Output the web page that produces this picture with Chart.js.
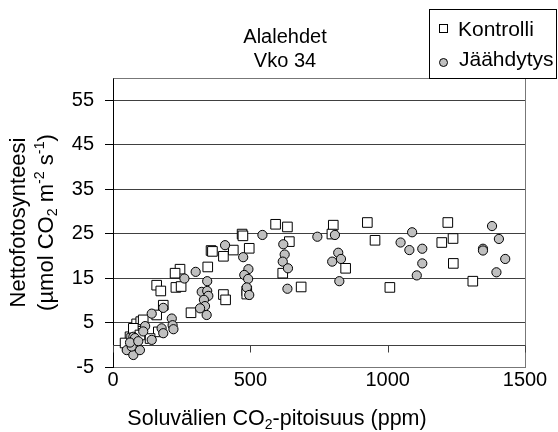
<!DOCTYPE html>
<html>
<head>
<meta charset="utf-8">
<script src="https://cdn.jsdelivr.net/npm/chart.js@4.4.0/dist/chart.umd.min.js"></script>
<style>
  html, body { margin: 0; padding: 0; background: #fff; }
  #wrap { width: 558px; height: 432px; }
</style>
</head>
<body>
<div id="wrap"><canvas id="chart" width="558" height="432"></canvas></div>
<script>
// Kontrolli (open squares)
const kontrolliX = [635, 642, 802, 797, 926, 954, 847, 685, 1008, 1219, 1197, 1238, 1239, 1310,
  592, 470, 473, 496, 438, 357, 362, 402, 345, 244, 226, 618, 159, 174, 229, 248,
  402, 410, 487, 487, 284, 183, 86, 101, 110, 62, 52, 74, 159, 165, 135, 44, 68, 98]
const kontrolliY = [26.5, 23.2, 26.9, 24.9, 27.5, 23.5, 17.2, 13.0, 12.9, 27.5, 23.0, 23.9, 18.3, 14.3,
  27.1, 24.9, 24.5, 21.7, 21.3, 21.2, 21.0, 19.9, 17.5, 17.0, 16.1, 16.1, 13.4, 12.1, 12.9, 13.1,
  11.3, 10.1, 12.1, 11.4, 7.2, 8.9, 4.7, 5.2, 5.6, 1.8, -0.4, 3.7, 6.7, 2.9, 1.4, 0.4, 1.4, 2.2]

// Jäähdytys (grey circles)
const jaahdytysX = [620, 625, 618, 637, 635, 744, 808, 820, 798, 830, 824, 1089, 1047, 1079, 1126, 1126,
  1106, 1380, 1405, 1347, 1347, 1428, 1396,
  544, 408, 474, 493, 478, 492, 487, 496, 301, 260, 343, 323, 343, 347, 331, 335, 317, 341,
  183, 141, 214, 217, 177, 183, 220, 117, 141, 74, 80, 50, 74, 98, 68, 110, 62, 92]
const jaahdytysY = [22.6, 20.3, 18.7, 17.2, 12.6, 24.3, 24.7, 20.7, 18.7, 19.3, 14.3, 25.3, 23.0, 21.3, 21.6, 18.3,
  15.6, 26.7, 23.8, 21.6, 21.2, 19.3, 16.3,
  24.7, 22.4, 19.7, 17.0, 15.7, 14.8, 12.9, 11.2, 16.4, 14.9, 14.3, 11.9, 12.1, 11.0, 10.1, 8.7, 8.2, 6.7,
  8.3, 7.0, 5.9, 4.4, 3.7, 2.6, 3.5, 4.2, 1.1, 1.8, 1.5, -1.2, -2.3, -1.2, -0.4, 3.0, 0.5, 0.8]

const xTicks = [0, 500, 1000, 1500]
const yTicks = [-5, 5, 15, 25, 35, 45, 55]

const titleLines = ['Alalehdet', 'Vko 34']
const seriesNames = ['Kontrolli', 'Jäähdytys']

const FONT = "'Liberation Sans', Arial, sans-serif"
const gridColor = '#404040'
const frameColor = '#777'

const toPoints = (xs, ys) => xs.map((x, i) => ({ x: x, y: ys[i] }))

// draw a line of text with sub/superscript parts, centred on x
function drawRich(ctx, parts, x, y, size) {
  let w = 0
  parts.forEach(p => {
    ctx.font = `${p.k ? size * 0.65 : size}px ${FONT}`
    w += ctx.measureText(p.t).width
  })
  let cx = x - w / 2
  ctx.textAlign = 'left'
  ctx.textBaseline = 'alphabetic'
  parts.forEach(p => {
    const s = p.k ? size * 0.65 : size
    ctx.font = `${s}px ${FONT}`
    const dy = p.k === 'sub' ? size * 0.2 : p.k === 'sup' ? -size * 0.4 : 0
    ctx.fillText(p.t, cx, y + dy)
    cx += ctx.measureText(p.t).width
  })
}

const framePlugin = {
  id: 'frame',
  beforeDatasetsDraw(chart) {
    const { ctx, chartArea: a, scales: { x, y } } = chart
    const al = v => Math.round(v) + 0.5
    ctx.save()
    ctx.lineWidth = 1
    ctx.strokeStyle = frameColor
    ctx.beginPath()
    ctx.moveTo(al(a.left), al(a.top))
    ctx.lineTo(al(a.right), al(a.top))
    ctx.lineTo(al(a.right), al(a.bottom))
    ctx.stroke()
    // horizontal axis crossing at 0
    const y0 = al(y.getPixelForValue(0))
    ctx.strokeStyle = gridColor
    ctx.beginPath()
    ctx.moveTo(a.left, y0)
    ctx.lineTo(a.right, y0)
    xTicks.forEach(v => {
      const px = al(x.getPixelForValue(v))
      ctx.moveTo(px, y0)
      ctx.lineTo(px, y0 + 7)
    })
    ctx.stroke()
    ctx.restore()
  },
  afterDraw(chart) {
    const { ctx, chartArea: a } = chart
    ctx.save()
    ctx.fillStyle = '#000'
    ctx.textAlign = 'center'
    ctx.textBaseline = 'alphabetic'
    ctx.font = `20px ${FONT}`
    ctx.fillText(titleLines[0], 285, 43)
    ctx.fillText(titleLines[1], 285, 67)

    // legend
    ctx.strokeStyle = '#000'
    ctx.lineWidth = 1
    ctx.fillStyle = '#fff'
    ctx.fillRect(429.5, 9.5, 127, 69)
    ctx.strokeRect(429.5, 9.5, 127, 69)
    ctx.fillRect(439.5, 24.5, 8, 8)
    ctx.strokeRect(439.5, 24.5, 8, 8)
    ctx.beginPath()
    ctx.arc(443.5, 62.5, 4, 0, Math.PI * 2)
    ctx.fillStyle = '#c0c0c0'
    ctx.fill()
    ctx.stroke()
    ctx.fillStyle = '#000'
    ctx.textAlign = 'left'
    ctx.font = `21px ${FONT}`
    ctx.fillText(seriesNames[0], 458, 36)
    ctx.fillText(seriesNames[1], 459, 66)

    // x axis title
    drawRich(ctx, [
      { t: 'Soluvälien CO' }, { t: '2', k: 'sub' }, { t: '-pitoisuus (ppm)' }
    ], 277, 425, 21.5)

    // y axis title
    const cy = (a.top + a.bottom) / 2
    ctx.translate(0, cy)
    ctx.rotate(-Math.PI / 2)
    drawRich(ctx, [{ t: 'Nettofotosynteesi' }], 0, 25, 22)
    drawRich(ctx, [
      { t: '(µmol CO' }, { t: '2', k: 'sub' }, { t: ' m' }, { t: '-2', k: 'sup' },
      { t: ' s' }, { t: '-1', k: 'sup' }, { t: ')' }
    ], 0, 53, 22)
    ctx.restore()
  }
}

new Chart(document.getElementById('chart'), {
  type: 'scatter',
  data: {
    datasets: [
      {
        label: seriesNames[0],
        data: toPoints(kontrolliX, kontrolliY),
        pointStyle: 'rect',
        pointRadius: 6.8,
        pointBackgroundColor: '#fff',
        pointBorderColor: '#000',
        pointBorderWidth: 1,
        order: 1
      },
      {
        label: seriesNames[1],
        data: toPoints(jaahdytysX, jaahdytysY),
        pointStyle: 'circle',
        pointRadius: 4.6,
        pointBackgroundColor: '#c0c0c0',
        pointBorderColor: '#000',
        pointBorderWidth: 1,
        order: 0
      }
    ]
  },
  options: {
    responsive: false,
    animation: false,
    devicePixelRatio: 1,
    layout: { padding: { top: 78, right: 33, left: 0, bottom: 0 } },
    plugins: {
      legend: { display: false },
      title: { display: false },
      tooltip: { enabled: false }
    },
    scales: {
      x: {
        type: 'linear',
        min: 0,
        max: 1500,
        afterBuildTicks: s => { s.ticks = xTicks.map(v => ({ value: v })) },
        afterFit: s => { s.height = 65 },
        grid: { display: false, drawTicks: false },
        border: { display: true, color: frameColor, width: 1 },
        ticks: {
          padding: 1,
          maxRotation: 0,
          autoSkip: false,
          color: '#000',
          font: { size: 20, family: FONT },
          callback: value => String(value)
        }
      },
      y: {
        type: 'linear',
        min: -5,
        max: 60,
        afterBuildTicks: s => { s.ticks = yTicks.map(v => ({ value: v })) },
        afterFit: s => { s.width = 113 },
        grid: { color: gridColor, tickColor: '#000', tickLength: 8, drawTicks: true },
        border: { display: true, color: '#000', width: 1 },
        ticks: {
          padding: 11,
          autoSkip: false,
          color: '#000',
          font: { size: 20, family: FONT },
          callback: value => String(value)
        }
      }
    }
  },
  plugins: [framePlugin]
})
</script>
</body>
</html>
